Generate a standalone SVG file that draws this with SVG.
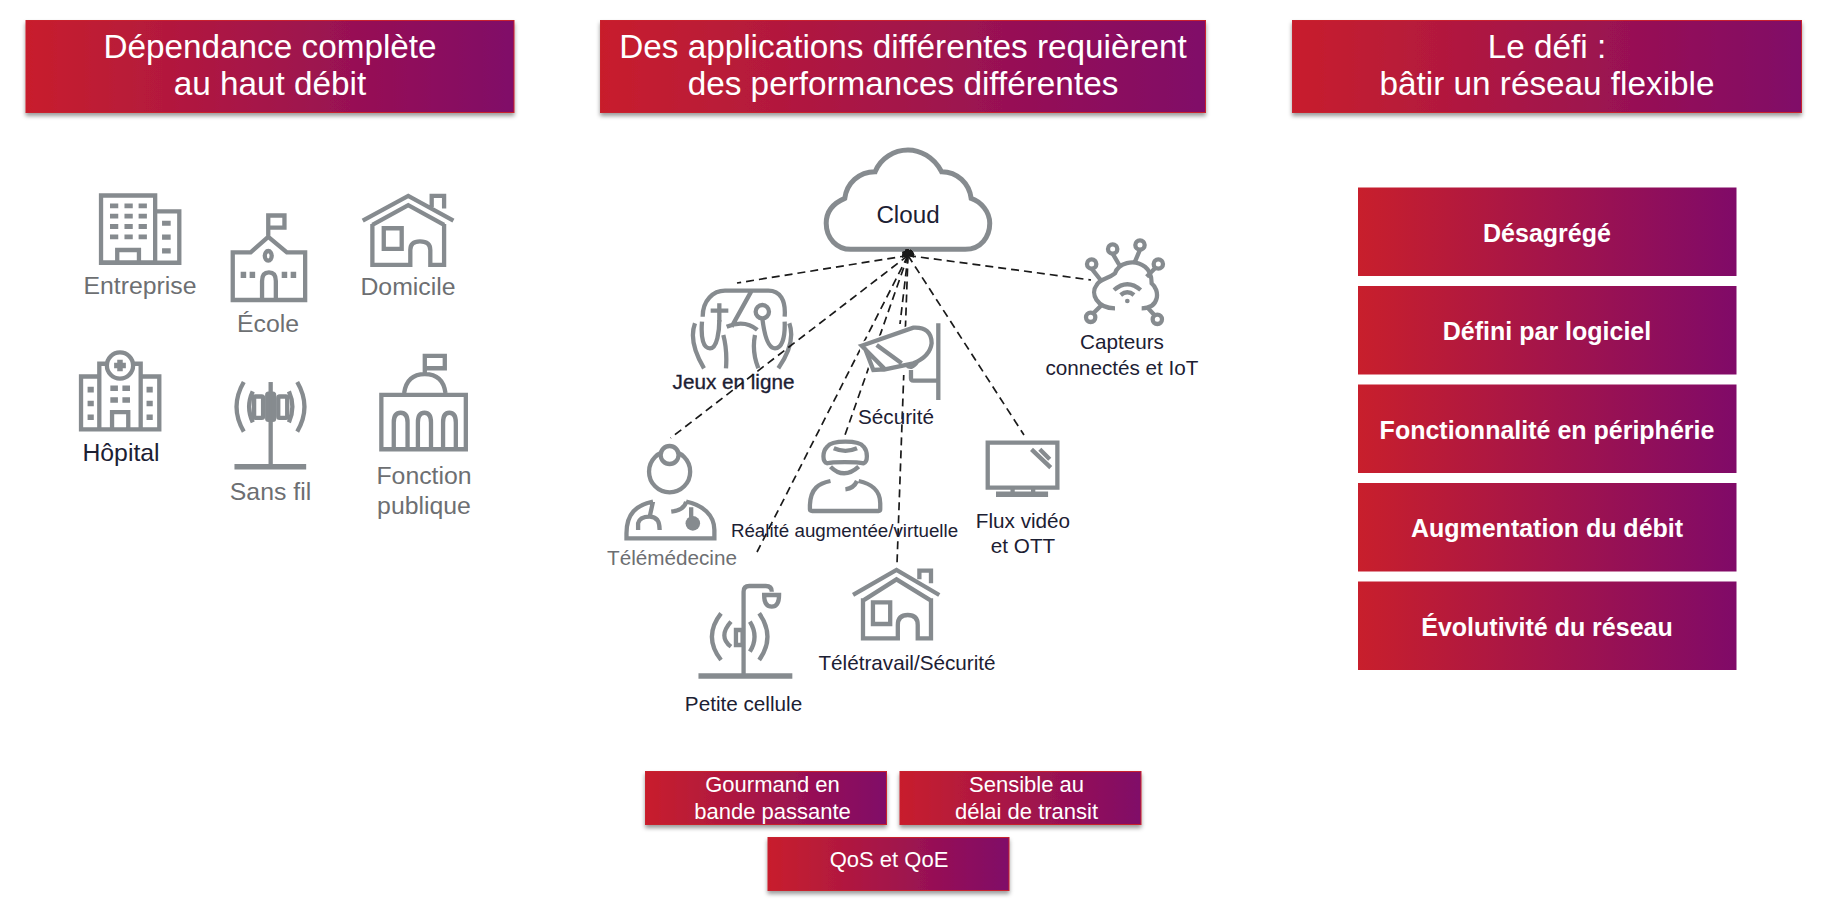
<svg xmlns="http://www.w3.org/2000/svg" width="1843" height="918" viewBox="0 0 1843 918">
<style>
text{font-family:"Liberation Sans",Arial,sans-serif;text-anchor:middle}
.h{fill:#fff;font-size:33.300px}
.s{fill:#fff;font-size:22px}
.b{fill:#fff;font-size:25px;font-weight:700}
.g{fill:#6d6f72;font-size:24.800px}
.d{fill:#1c2033;font-size:20.700px}
.hd{fill:url(#gr);stroke:#c8202f;stroke-width:1;filter:url(#sh)}
.bx{fill:url(#gr)}
.i *{fill:none;stroke:#868b8f;stroke-width:4.300;vector-effect:non-scaling-stroke;stroke-linejoin:miter}
.i .f{fill:#868b8f;stroke:none}
.i .w{fill:#fff}
.i .t{stroke-width:5.500}
.c line{stroke:#1a1a1a;stroke-width:1.700;stroke-dasharray:8 5;marker-start:url(#ar)}
</style>
<defs>
<linearGradient id="gr" x1="0" x2="1" y1="0" y2="0"><stop offset="0" stop-color="#c81f2c"/><stop offset="1" stop-color="#800a68"/></linearGradient>
<filter id="sh" x="-5%" y="-10%" width="110%" height="130%"><feDropShadow dx="0" dy="3" stdDeviation="2" flood-color="#000" flood-opacity=".4"/></filter>
<marker id="ar" markerWidth="7" markerHeight="7" refX="1" refY="3.5" orient="auto-start-reverse" markerUnits="userSpaceOnUse"><path d="M7,0 L0,3.5 L7,7Z" fill="#1a1a1a"/></marker>
</defs>
<rect width="1843" height="918" fill="#fff"/>

<g id="header-1"><rect class="hd" x="26" y="20.500" width="488" height="92"/><text class="h" x="270" y="58">Dépendance complète</text><text class="h" x="270" y="95">au haut débit</text></g>
<g id="header-2"><rect class="hd" x="600.500" y="20.500" width="605" height="92"/><text class="h" x="903" y="58">Des applications différentes requièrent</text><text class="h" x="903" y="95">des performances différentes</text></g>
<g id="header-3"><rect class="hd" x="1292.500" y="20.500" width="509" height="92"/><text class="h" x="1547" y="58">Le défi :</text><text class="h" x="1547" y="95">bâtir un réseau flexible</text></g>

<g id="entreprise"><g class="i" transform="scale(.3448)"><rect x="293" y="567" width="157" height="195"/><path d="M450,613H520V762H293M340,762V725H403V762"/><path class="f" d="M319,590h24v14h-24zM361,590h24v14h-24zM402,590h24v14h-24zM319,620h24v14h-24zM361,620h24v14h-24zM402,620h24v14h-24zM319,650h24v14h-24zM361,650h24v14h-24zM402,650h24v14h-24zM319,680h24v14h-24zM361,680h24v14h-24zM402,680h24v14h-24zM470,640h25v15h-25zM470,680h25v15h-25zM470,720h25v15h-25z"/></g><text class="g" x="140" y="294">Entreprise</text></g>
<g id="ecole"><g class="i" transform="scale(.3448)"><path d="M675,732H727L778,687L832,732H885V870H675ZM778,687V625H825V660H778M760,868V815Q760,790 780,790Q800,790 800,815V868"/><ellipse cx="778" cy="742" rx="10" ry="14"/><path class="f" d="M698,788h16v18h-16zM724,788h16v18h-16zM817,788h16v18h-16zM843,788h16v18h-16z"/></g><text class="g" x="268" y="332">École</text></g>
<g id="domicile"><g class="i" transform="scale(.3448)"><path d="M1052,640L1184,568L1315,640M1080,652L1184,595L1288,652M1252,600V568H1288V605M1080,650V768H1190V725Q1190,700 1218,700Q1248,700 1248,725V768H1288V650"/><rect x="1113" y="662" width="52" height="60"/></g><text class="g" x="408" y="295">Domicile</text></g>
<g id="hopital"><g class="i" transform="scale(.3448)"><circle cx="348" cy="1060" r="38"/><path d="M348,1043V1077M331,1060H365" class="t"/><path d="M288,1245V1055H310M386,1055H408V1245M288,1092H235V1245H462V1092H408M325,1245V1195H372V1245"/><path class="f" d="M320,1118h22v16h-22zM355,1118h22v16h-22zM320,1152h22v16h-22zM355,1152h22v16h-22zM254,1122h18v16h-18zM254,1162h18v16h-18zM254,1202h18v16h-18zM425,1122h18v16h-18zM425,1162h18v16h-18zM425,1202h18v16h-18z"/></g><text class="g" x="121" y="461" style="fill:#1c2033">Hôpital</text></g>
<g id="sans-fil"><g class="i" transform="scale(.3448)"><path d="M785,1108V1350"/><path class="t" d="M680,1354H888"/><rect x="737" y="1150" width="26" height="62" rx="4"/><rect x="775" y="1142" width="20" height="76" rx="4"/><rect x="807" y="1150" width="26" height="62" rx="4"/><path d="M707,1108Q665,1180 707,1252M862,1108Q904,1180 862,1252M733,1135Q712,1180 733,1225M838,1135Q858,1180 838,1225"/></g><text class="g" x="270.500" y="500">Sans fil</text></g>
<g id="fonction-publique"><g class="i" transform="scale(.3448)"><rect x="1106" y="1145" width="245" height="158"/><path d="M1172,1140Q1180,1085 1232,1085Q1285,1085 1292,1140M1232,1085V1032H1290V1068H1232M1142,1300V1225Q1142,1197 1162,1197Q1182,1197 1182,1225V1300M1212,1300V1225Q1212,1197 1231,1197Q1250,1197 1250,1225V1300M1285,1300V1225Q1285,1197 1303,1197Q1322,1197 1322,1225V1300"/></g><text class="g" x="424" y="484">Fonction</text><text class="g" x="424" y="514">publique</text></g>

<g id="cloud"><g class="i" transform="translate(590,130) scale(.395,.3333)"><path d="M660,358H950C990,358 1012,320 1012,280C1012,245 990,215 965,205C960,160 930,125 890,125C870,80 835,60 805,60C770,60 735,85 722,125C680,125 650,160 645,205C615,220 598,245 598,280C598,325 625,358 660,358Z" style="stroke-width:5"/></g><text class="d" x="908" y="223" style="font-size:24.200px">Cloud</text></g>

<g id="jeux"><g class="i" transform="translate(680,280) scale(.3333)"><path d="M68,110C68,60 100,32 135,32H265C300,32 318,60 314,110M215,32L155,140M140,140Q195,118 232,150M118,70V125M92,92H145"/><circle cx="247" cy="95" r="20"/><path d="M118,120C118,150 112,205 90,205C70,205 62,175 66,125M45,130C30,170 42,215 72,265M130,165Q142,210 138,265M247,115C250,140 258,205 285,205C305,205 316,175 314,125M328,130C342,170 330,215 295,265M225,165Q215,215 235,265"/></g><text class="d" x="733.500" y="389" style="stroke:#1c2033;stroke-width:.35">Jeux en ligne</text></g>

<g id="connectors" class="c">
<line x1="908" y1="255.500" x2="737" y2="283"/>
<line x1="908" y1="255.500" x2="1091" y2="280"/>
<line x1="908" y1="255.500" x2="670.600" y2="438"/>
<line x1="908" y1="255.500" x2="757" y2="552"/>
<line x1="908" y1="255.500" x2="845" y2="435"/>
<line x1="908" y1="255.500" x2="900" y2="324"/>
<line x1="908" y1="255.500" x2="897" y2="564"/>
<line x1="908" y1="255.500" x2="1024" y2="435"/>
</g>

<g id="securite"><g class="i" transform="translate(680,280) scale(.3333)"><path d="M545,197L700,143Q755,140 755,190Q750,230 700,250L615,268L580,270Z" style="fill:#fff;stroke:#fff;stroke-width:7"/><rect x="640" y="245" width="65" height="40" style="fill:#fff;stroke:none"/><path d="M545,197L700,143Q755,140 755,190Q750,230 700,250L615,268ZM555,205L580,270L615,268M590,195L665,250M680,255Q695,270 712,245M693,270V295Q693,302 700,302H775M775,130V360"/></g><text class="d" x="896" y="423.500">Sécurité</text></g>

<g id="capteurs"><g class="i" transform="translate(1060,230) scale(.3333)"><path d="M165,235C110,235 90,190 110,165C120,145 140,150 165,130C175,100 220,85 255,110C275,125 275,150 275,160C300,180 300,235 245,235M95,116L122,150M158,71L178,105M240,59L225,95M285,115L260,140M100,250L122,228M283,255L262,232M162,180Q202,145 242,180M182,195Q202,178 222,195"/><circle cx="95" cy="102" r="14"/><circle cx="158" cy="57" r="14"/><circle cx="240" cy="45" r="14"/><circle cx="295" cy="102" r="14"/><circle cx="92" cy="262" r="14"/><circle cx="292" cy="268" r="14"/><circle class="f" cx="202" cy="213" r="7"/></g><text class="d" x="1122" y="349">Capteurs</text><text class="d" x="1122" y="374.500">connectés et IoT</text></g>

<g id="telemedecine"><g class="i" transform="translate(590,420) scale(.3317,.3333)"><circle cx="240" cy="155" r="62"/><circle cx="240" cy="105" r="27" class="w"/><path d="M190,245C140,255 110,280 110,340V355H375V330C375,285 340,255 290,245M245,275Q285,270 290,245M190,245L180,290M145,330V310Q150,290 180,290Q210,290 210,330M305,262V300"/><circle class="f" cx="310" cy="310" r="22"/></g><text class="d" x="672" y="565" style="fill:#6d6f72">Télémédecine</text></g>

<g id="vr"><g class="i" transform="translate(590,420) scale(.3317,.3333)"><path d="M715,80C730,60 810,60 825,80C838,95 838,125 825,130C805,125 730,125 715,130C700,125 700,95 715,80ZM725,140Q765,180 810,140M735,85Q770,100 805,85M725,183C690,190 665,205 663,255V268Q663,273 670,273H870Q875,273 875,268V250C875,210 845,190 810,183M770,208Q795,205 805,183"/></g><text class="d" x="844.500" y="537" style="font-size:18.750px">Réalité augmentée/virtuelle</text></g>

<g id="flux"><g class="i" transform="translate(592,420) scale(.3317,.3333)"><rect x="1193" y="68" width="210" height="135"/><path d="M1268,203V222M1330,203V222M1325,88L1383,143M1350,88L1380,118"/><path class="t" d="M1218,223H1375"/></g><text class="d" x="1023" y="527.500">Flux vidéo</text><text class="d" x="1023" y="553">et OTT</text></g>

<g id="petite-cellule"><g class="i" transform="translate(590,420) scale(.3317,.3333)"><path d="M463,765V515Q463,498 480,498H530Q548,498 548,515M525,525H570Q570,560 548,560Q525,560 525,525ZM395,580Q340,650 395,720M425,605Q385,650 425,680M482,605Q510,650 482,695M510,580Q560,650 510,720"/><rect x="440" y="630" width="20" height="45"/><path class="t" d="M327,768H610"/></g><text class="d" x="743.500" y="711">Petite cellule</text></g>

<g id="teletravail"><g class="i" transform="translate(591,420) scale(.3317,.3333)"><path d="M790,525L921,450L1050,525M820,542L921,478L1025,542M990,478V452H1025V490M820,535V655H925V615Q925,585 955,585Q985,585 985,615V655H1025V535"/><rect x="850" y="547" width="52" height="65"/></g><text class="d" x="907" y="670">Télétravail/Sécurité</text></g>

<g id="tag-1"><rect class="hd" x="645.500" y="771.500" width="241" height="53"/><text class="s" x="772.500" y="792">Gourmand en</text><text class="s" x="772.500" y="819">bande passante</text></g>
<g id="tag-2"><rect class="hd" x="900" y="771.500" width="241" height="53"/><text class="s" x="1026.500" y="792">Sensible au</text><text class="s" x="1026.500" y="819">délai de transit</text></g>
<g id="tag-3"><rect class="hd" x="768" y="837.500" width="241" height="53"/><text class="s" x="889" y="867">QoS et QoE</text></g>

<g id="r1"><rect class="bx" x="1358" y="187.500" width="378.500" height="88.500"/><text class="b" x="1547" y="241.500">Désagrégé</text></g>
<g id="r2"><rect class="bx" x="1358" y="286" width="378.500" height="88.500"/><text class="b" x="1547" y="340">Défini par logiciel</text></g>
<g id="r3"><rect class="bx" x="1358" y="384.500" width="378.500" height="88.500"/><text class="b" x="1547" y="438.500">Fonctionnalité en périphérie</text></g>
<g id="r4"><rect class="bx" x="1358" y="483" width="378.500" height="88.500"/><text class="b" x="1547" y="537">Augmentation du débit</text></g>
<g id="r5"><rect class="bx" x="1358" y="581.500" width="378.500" height="88.500"/><text class="b" x="1547" y="635.500">Évolutivité du réseau</text></g>
</svg>
